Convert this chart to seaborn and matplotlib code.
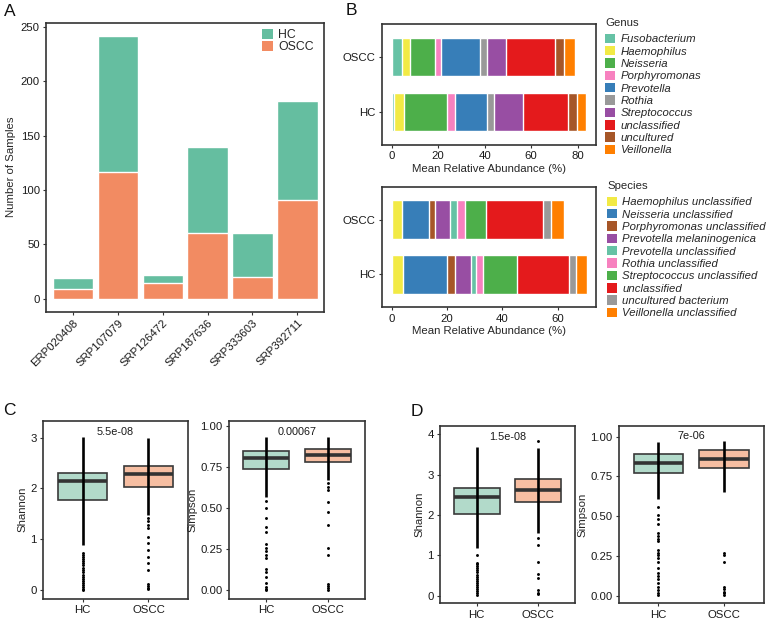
import numpy as np
import pandas as pd
import matplotlib
matplotlib.use("Agg")
import matplotlib.pyplot as plt
import seaborn as sns
from matplotlib.patches import Patch

# ---------------- data ----------------
# Panel A
studies = ["ERP020408", "SRP107079", "SRP126472", "SRP187636", "SRP333603", "SRP392711"]
oscc_n = [9, 117, 14, 60, 20, 91]
hc_n = [10, 125, 8, 80, 40, 91]

# Panel B
groups = ["OSCC", "HC"]
genus_names = ["Fusobacterium", "Haemophilus", "Neisseria", "Porphyromonas", "Prevotella",
               "Rothia", "Streptococcus", "unclassified", "uncultured", "Veillonella"]
genus_oscc = [4.3, 3.7, 10.4, 3.0, 16.7, 2.9, 8.0, 21.1, 3.9, 4.9]
genus_hc = [1.0, 4.4, 18.3, 3.7, 13.7, 2.7, 12.7, 19.5, 3.7, 3.9]
genus_colors = ["#66C2A5", "#F2EA45", "#4DAF4A", "#F781BF", "#377EB8",
                "#999999", "#984EA3", "#E41A1C", "#A65628", "#FF7F00"]

species_names = ["Haemophilus unclassified", "Neisseria unclassified", "Porphyromonas unclassified",
                 "Prevotella melaninogenica", "Prevotella unclassified", "Rothia unclassified",
                 "Streptococcus unclassified", "unclassified", "uncultured bacterium",
                 "Veillonella unclassified"]
species_oscc = [3.6, 9.7, 2.4, 5.2, 2.6, 2.9, 7.6, 20.8, 2.9, 4.6]
species_hc = [4.2, 15.7, 3.0, 5.8, 1.9, 2.5, 12.0, 19.1, 2.2, 4.0]
species_colors = ["#F2EA45", "#377EB8", "#A65628", "#984EA3", "#66C2A5",
                  "#F781BF", "#4DAF4A", "#E41A1C", "#999999", "#FF7F00"]

# Panels C / D (boxes: q1, median, q3 for HC, OSCC)
box_groups = ["HC", "OSCC"]

c_shannon_q1 = [1.78, 2.03]
c_shannon_med = [2.15, 2.28]
c_shannon_q3 = [2.31, 2.44]
c_shannon_dense_lo = [0.88, 1.48]
c_shannon_dense_hi = [3.01, 2.99]
c_shannon_pts_hc = [0.74, 0.70, 0.66, 0.62, 0.58, 0.53, 0.49, 0.44, 0.40, 0.36, 0.31,
                    0.27, 0.22, 0.18, 0.14, 0.10, 0.06, 0.03, 0.0]
c_shannon_pts_oscc = [1.41, 1.36, 1.29, 1.23, 1.05, 0.92, 0.79, 0.66, 0.53, 0.40,
                      0.12, 0.08, 0.05, 0.02]
c_shannon_p = "5.5e-08"

c_simpson_q1 = [0.736, 0.777]
c_simpson_med = [0.805, 0.820]
c_simpson_q3 = [0.848, 0.857]
c_simpson_dense_lo = [0.57, 0.67]
c_simpson_dense_hi = [0.933, 0.929]
c_simpson_pts_hc = [0.545, 0.50, 0.437, 0.386, 0.352, 0.279, 0.259, 0.238, 0.218, 0.198,
                    0.129, 0.109, 0.083, 0.048, 0.022, 0.008, 0.0]
c_simpson_pts_oscc = [0.649, 0.629, 0.609, 0.534, 0.477, 0.396, 0.259, 0.214,
                      0.042, 0.028, 0.012, 0.002]
c_simpson_p = "0.00067"

d_shannon_q1 = [2.02, 2.32]
d_shannon_med = [2.44, 2.61]
d_shannon_q3 = [2.66, 2.88]
d_shannon_dense_lo = [1.17, 1.55]
d_shannon_dense_hi = [3.69, 3.65]
d_shannon_pts_hc = [1.01, 0.82, 0.78, 0.73, 0.68, 0.63, 0.58, 0.52, 0.47, 0.42, 0.37,
                    0.31, 0.26, 0.21, 0.16, 0.11, 0.06, 0.02]
d_shannon_pts_oscc = [3.82, 1.42, 1.26, 0.84, 0.54, 0.43, 0.14, 0.07, 0.03]
d_shannon_p = "1.5e-08"

d_simpson_q1 = [0.772, 0.805]
d_simpson_med = [0.833, 0.858]
d_simpson_q3 = [0.889, 0.914]
d_simpson_dense_lo = [0.61, 0.655]
d_simpson_dense_hi = [0.968, 0.975]
d_simpson_pts_hc = [0.556, 0.508, 0.48, 0.451, 0.392, 0.376, 0.359, 0.342, 0.288, 0.271,
                    0.254, 0.235, 0.214, 0.172, 0.141, 0.124, 0.103, 0.082, 0.057, 0.036,
                    0.019, 0.004]
d_simpson_pts_oscc = [0.266, 0.256, 0.214, 0.057, 0.04, 0.025, 0.015, 0.004]
d_simpson_p = "7e-06"

# ---------------- style ----------------
sns.set_theme(style="ticks")
plt.rcParams["font.family"] = ["Liberation Sans", "DejaVu Sans"]
FS = 8.2
DARK = "#333333"
HC_COL = "#65BEA0"
OSCC_COL = "#F28B62"
box_fill = {"HC": "#B2DACA", "OSCC": "#F6BEA2"}

W, H = 767, 618
fig = plt.figure(figsize=(W / 100, H / 100), dpi=100)


def px_axes(left, top, right, bottom):
    return fig.add_axes([left / W, 1 - bottom / H, (right - left) / W, (bottom - top) / H])


def style_axes(ax):
    for s in ax.spines.values():
        s.set_visible(True)
        s.set_color(DARK)
        s.set_linewidth(1.2)
    ax.tick_params(axis="both", length=2.5, width=0.8, color=DARK, labelsize=FS,
                   labelcolor="#1a1a1a", pad=2)


# ---------------- Panel A ----------------
axA = px_axes(46, 22.7, 324.3, 311.7)
totals = [o + h for o, h in zip(oscc_n, hc_n)]
sns.barplot(x=studies, y=totals, color=HC_COL, saturation=1, width=0.9, ax=axA)
sns.barplot(x=studies, y=oscc_n, color=OSCC_COL, saturation=1, width=0.9, ax=axA)
style_axes(axA)
axA.set_xlim(-0.6, len(studies) - 0.4)
axA.set_ylim(-12.1, 254.1)
axA.set_yticks([0, 50, 100, 150, 200, 250])
axA.set_ylabel("Number of Samples", fontsize=FS, labelpad=3)
axA.set_xlabel("")
plt.setp(axA.get_xticklabels(), rotation=45, ha="right", rotation_mode="anchor")
axA.legend(handles=[Patch(facecolor=HC_COL, edgecolor="none"),
                    Patch(facecolor=OSCC_COL, edgecolor="none")],
           labels=["HC", "OSCC"], loc="upper left", bbox_to_anchor=(0.776, 0.978),
           frameon=False, fontsize=8.8, handlelength=0.9, handleheight=0.9,
           handletextpad=0.45, labelspacing=-0.05, borderaxespad=0, borderpad=0)


# ---------------- Panel B ----------------
def stacked_h(ax, vals_oscc, vals_hc, colors, xlim):
    cum_o = np.cumsum(vals_oscc)
    cum_h = np.cumsum(vals_hc)
    for i in reversed(range(len(colors))):
        sns.barplot(x=[cum_o[i], cum_h[i]], y=groups, orient="h", color=colors[i],
                    saturation=1, width=0.7, ax=ax)
    style_axes(ax)
    ax.set_ylim(1.6, -0.6)
    ax.set_xlim(*xlim)
    ax.set_ylabel("")
    ax.set_xlabel("Mean Relative Abundance (%)", fontsize=FS, labelpad=2)


axB1 = px_axes(382, 24.3, 596, 145)
stacked_h(axB1, genus_oscc, genus_hc, genus_colors, (-4.2, 87.9))
axB1.set_xticks([0, 20, 40, 60, 80])
axB2 = px_axes(382, 186.7, 596, 307.3)
stacked_h(axB2, species_oscc, species_hc, species_colors, (-3.55, 73.8))
axB2.set_xticks([0, 20, 40, 60])


def side_legend(names, colors, title, x, y):
    leg = fig.legend(handles=[Patch(facecolor=c, edgecolor="none") for c in colors],
                     labels=names, title=title, loc="upper left",
                     bbox_to_anchor=(x / W, 1 - y / H), frameon=False,
                     prop={"style": "italic", "size": FS}, title_fontsize=FS,
                     handlelength=0.9, handleheight=0.9, handletextpad=0.45,
                     labelspacing=0.15, borderpad=0, borderaxespad=0)
    leg._legend_box.align = "left"
    leg._legend_box.sep = 4.0
    return leg


side_legend(genus_names, genus_colors, "Genus", 605, 18)
side_legend(species_names, species_colors, "Species", 607, 181)


# ---------------- Panels C / D ----------------
def box_panel(rect, q1, med, q3, dense_lo, dense_hi, pts_hc, pts_oscc,
              ylim, yticks, ytl, ylabel, ptext, py):
    ax = px_axes(*rect)
    rows = []
    for g, a, m, b in zip(box_groups, q1, med, q3):
        for v in (a, a, m, b, b):
            rows.append((g, v))
    df = pd.DataFrame(rows, columns=["group", "value"])
    sns.boxplot(data=df, x="group", y="value", hue="group", order=box_groups,
                hue_order=box_groups, palette=box_fill, saturation=1, width=0.75,
                whis=0, showfliers=False, showcaps=False, linewidth=1.2,
                linecolor="#3a3a3a", medianprops=dict(linewidth=2.6, color="#333333"),
                legend=False, ax=ax)
    ax.vlines(range(len(box_groups)), dense_lo, dense_hi, color="black", lw=1.9, zorder=5)
    pts = pd.DataFrame({"group": ["HC"] * len(pts_hc) + ["OSCC"] * len(pts_oscc),
                        "value": pts_hc + pts_oscc})
    sns.stripplot(data=pts, x="group", y="value", order=box_groups, jitter=False,
                  color="black", size=2.1, linewidth=0, ax=ax, zorder=6)
    style_axes(ax)
    ax.set_xlim(-0.6, 1.6)
    ax.set_ylim(*ylim)
    ax.set_yticks(yticks)
    ax.set_yticklabels(ytl)
    ax.set_xlabel("")
    ax.set_ylabel(ylabel, fontsize=FS, labelpad=2)
    ax.text(0.5, py, ptext, ha="center", va="center", fontsize=7.8, color="#1a1a1a")
    return ax


simp_ticks = [0, 0.25, 0.5, 0.75, 1.0]
simp_tl = ["0.00", "0.25", "0.50", "0.75", "1.00"]

box_panel((43, 420.7, 188, 598.7), c_shannon_q1, c_shannon_med, c_shannon_q3,
          c_shannon_dense_lo, c_shannon_dense_hi, c_shannon_pts_hc, c_shannon_pts_oscc,
          (-0.165, 3.33), [0, 1, 2, 3], ["0", "1", "2", "3"], "Shannon", c_shannon_p, 3.11)
box_panel((228.7, 420.7, 365, 598.7), c_simpson_q1, c_simpson_med, c_simpson_q3,
          c_simpson_dense_lo, c_simpson_dense_hi, c_simpson_pts_hc, c_simpson_pts_oscc,
          (-0.05, 1.03), simp_ticks, simp_tl, "Simpson", c_simpson_p, 0.963)
box_panel((440, 425.7, 574.5, 603.3), d_shannon_q1, d_shannon_med, d_shannon_q3,
          d_shannon_dense_lo, d_shannon_dense_hi, d_shannon_pts_hc, d_shannon_pts_oscc,
          (-0.19, 4.21), [0, 1, 2, 3, 4], ["0", "1", "2", "3", "4"], "Shannon", d_shannon_p, 3.94)
box_panel((619, 425.7, 763.5, 603.3), d_simpson_q1, d_simpson_med, d_simpson_q3,
          d_simpson_dense_lo, d_simpson_dense_hi, d_simpson_pts_hc, d_simpson_pts_oscc,
          (-0.048, 1.069), simp_ticks, simp_tl, "Simpson", d_simpson_p, 1.006)

# panel letters
for lab, x, y in [("A", 3.5, 4), ("B", 346, 3), ("C", 3, 403), ("D", 411, 404)]:
    fig.text(x / W, 1 - y / H, lab, ha="left", va="top", fontsize=12.5, color="#111111")

fig.savefig("out.png", dpi=100)
